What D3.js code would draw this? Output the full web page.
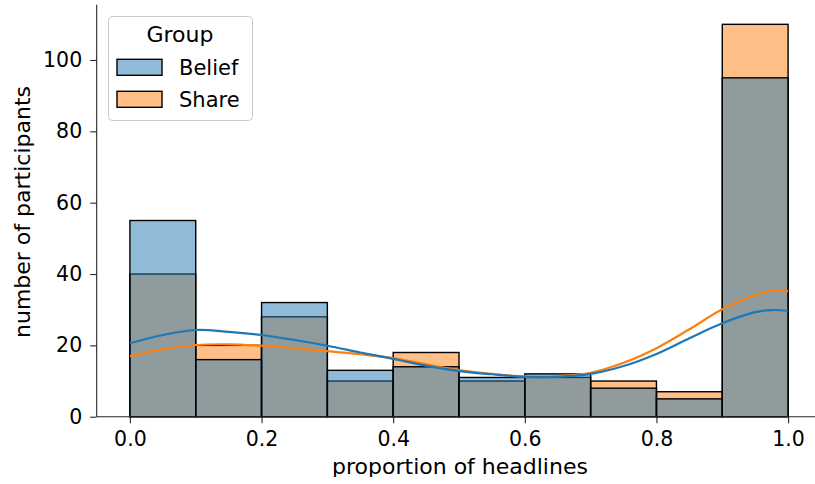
<!DOCTYPE html>
<html><head><meta charset="utf-8">
<script src="https://cdn.jsdelivr.net/npm/d3@7"></script>
<style>body{margin:0;background:#fff}svg{display:block}text{font-family:"DejaVu Sans",sans-serif;fill:#000}</style>
</head><body><svg id="c" width="815" height="484"></svg>
<script>
const binEdges = [0,0.1,0.2,0.3,0.4,0.5,0.6,0.7,0.8,0.9,1.0];
const beliefCounts = [55,16,32,13,14,11,12,8,5,95];
const shareCounts  = [40,20,28,10,18,10,11,10,7,110];
const kdeX = [0,0.05,0.1,0.15,0.2,0.25,0.3,0.35,0.4,0.45,0.5,0.55,0.6,0.65,0.7,0.75,0.8,0.85,0.9,0.95,0.975,1.0];
const beliefKde = [20.6,22.9,24.3,23.8,22.9,21.5,19.9,18.0,16.2,14.3,12.8,11.9,11.2,11.2,12.0,14.2,17.6,22.0,26.2,29.3,29.9,29.7];
const shareKde  = [17.0,18.9,20.1,20.3,19.9,19.2,18.4,17.5,16.4,14.7,13.1,12.0,11.3,11.4,12.3,15.1,19.2,24.5,30.1,34.1,35.3,35.2];
const xTicks = [0,0.2,0.4,0.6,0.8,1.0];
const yTicks = [0,20,40,60,80,100];
const groups = ["Belief","Share"];
const colors = {Belief:"#1f77b4", Share:"#ff7f0e"};

const svg = d3.select("#c");
const x = d3.scaleLinear().domain([-0.05,1.05]).range([97,821]);
const y = d3.scaleLinear().domain([0,115.5]).range([416.7,4.7]);

svg.append("defs").append("clipPath").attr("id","cut")
  .append("rect").attr("x",0).attr("y",0).attr("width",815).attr("height",477);

function bars(counts, color){
  const g = svg.append("g");
  g.selectAll("rect").data(counts).join("rect")
    .attr("x",(d,i)=>x(binEdges[i]))
    .attr("width",(d,i)=>x(binEdges[i+1])-x(binEdges[i]))
    .attr("y",d=>y(d))
    .attr("height",d=>y(0)-y(d))
    .attr("fill",color).attr("fill-opacity",0.5)
    .attr("stroke","#000").attr("stroke-width",1.4);
}
bars(shareCounts, colors.Share);
bars(beliefCounts, colors.Belief);

const line = d3.line().x((d,i)=>x(kdeX[i])).y(d=>y(d)).curve(d3.curveCatmullRom.alpha(0.5));
svg.append("path").attr("d",line(shareKde)).attr("fill","none").attr("stroke",colors.Share).attr("stroke-width",2.2);
svg.append("path").attr("d",line(beliefKde)).attr("fill","none").attr("stroke",colors.Belief).attr("stroke-width",2.2);

// axes
const ax = svg.append("g").attr("transform","translate(0,416.7)")
  .call(d3.axisBottom(x).tickValues(xTicks).tickFormat(d3.format(".1f")).tickSize(6.5).tickPadding(8));
ax.select(".domain").attr("d","M97,0H815").attr("stroke","#262626").attr("stroke-width",1.1);
const ay = svg.append("g").attr("transform","translate(96.7,0)")
  .call(d3.axisLeft(y).tickValues(yTicks).tickSize(6.5).tickPadding(8));
ay.select(".domain").attr("d","M0,4.7V416.7").attr("stroke","#262626").attr("stroke-width",1.1);
svg.selectAll(".tick line").attr("stroke","#262626").attr("stroke-width",1.1);
svg.selectAll(".tick text").style("font-family","DejaVu Sans").style("font-size","20.5px").attr("fill","#000");

svg.append("text").attr("clip-path","url(#cut)").attr("x",460).attr("y",474).attr("text-anchor","middle").style("font-size","22px").text("proportion of headlines");
svg.append("text").attr("transform","translate(30,212) rotate(-90)").attr("text-anchor","middle").style("font-size","22px").text("number of participants");

// legend
const lg = svg.append("g");
lg.append("rect").attr("x",108.5).attr("y",16.5).attr("width",144).attr("height",104).attr("rx",4)
  .attr("fill","#fff").attr("fill-opacity",0.8).attr("stroke","#cccccc").attr("stroke-width",1);
lg.append("text").attr("x",180).attr("y",42).attr("text-anchor","middle").style("font-size","22px").text("Group");
groups.forEach((gname,i)=>{
  const yy = 59.3 + i*32;
  lg.append("rect").attr("x",117).attr("y",yy).attr("width",45).attr("height",16)
    .attr("fill",colors[gname]).attr("fill-opacity",0.5).attr("stroke","#000").attr("stroke-width",1.4);
  lg.append("text").attr("x",179).attr("y",yy+16).style("font-size","21px").text(gname);
});
</script></body></html>
